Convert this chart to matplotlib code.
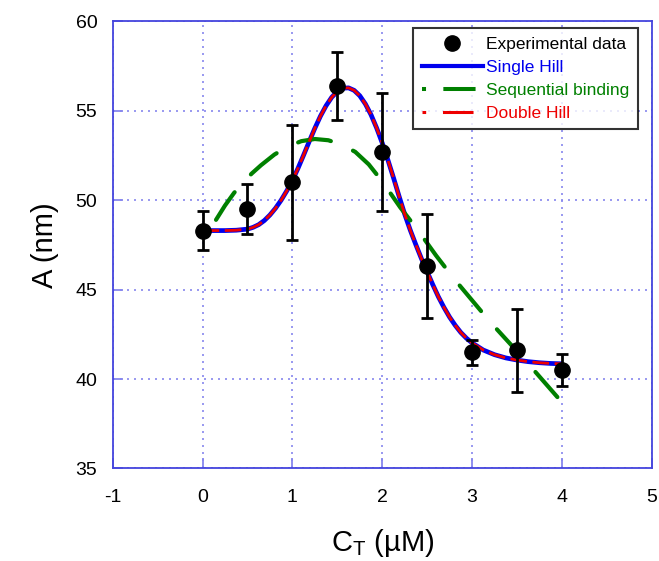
import matplotlib
matplotlib.use('Agg')
import matplotlib.pyplot as plt
from matplotlib.lines import Line2D

plt.rcParams['font.family'] = ['Liberation Sans', 'DejaVu Sans']
plt.rcParams['mathtext.fontset'] = 'custom'
plt.rcParams['mathtext.rm'] = 'Liberation Sans'
plt.rcParams['mathtext.it'] = 'Liberation Sans'
plt.rcParams['axes.unicode_minus'] = False

# measured absorbance peak position vs total concentration
conc = [0, 0.5, 1.0, 1.5, 2.0, 2.5, 3.0, 3.5, 4.0]
A_exp = [48.3, 49.5, 51.0, 56.4, 52.7, 46.3, 41.5, 41.6, 40.5]
err_lo = [47.2, 48.1, 47.8, 54.5, 49.4, 43.4, 40.8, 39.3, 39.6]
err_hi = [49.4, 50.9, 54.2, 58.3, 56.0, 49.2, 42.2, 43.9, 41.4]

# fitted curves
x_hill = [0, 0.125, 0.25, 0.375, 0.5, 0.5625, 0.625, 0.6875, 0.75, 0.8125,
          0.875, 0.9375, 1.0, 1.0625, 1.125, 1.1875, 1.25, 1.3125, 1.375,
          1.4375, 1.5, 1.5625, 1.625, 1.6875, 1.75, 1.8125, 1.875, 1.9375,
          2.0, 2.0625, 2.125, 2.1875, 2.25, 2.3125, 2.375, 2.4375, 2.5,
          2.5625, 2.625, 2.6875, 2.75, 2.8125, 2.875, 2.9375, 3.0, 3.125,
          3.25, 3.375, 3.5, 3.625, 3.75, 3.875, 4.0]
A_single = [48.3, 48.3, 48.3, 48.32, 48.38, 48.48, 48.63, 48.86, 49.17, 49.55,
            50.0, 50.52, 51.1, 51.78, 52.52, 53.28, 54.02, 54.7, 55.28,
            55.75, 56.08, 56.26, 56.28, 56.14, 55.84, 55.38, 54.78, 54.04,
            53.2, 52.26, 51.26, 50.22, 49.22, 48.32, 47.5, 46.72, 46.0,
            45.28, 44.6, 44.0, 43.46, 43.0, 42.6, 42.28, 42.02, 41.62,
            41.36, 41.18, 41.06, 40.97, 40.91, 40.87, 40.85]
A_double = A_single

x_seq = [0.15, 0.25, 0.35, 0.45, 0.55, 0.65, 0.8, 0.95, 1.1, 1.25, 1.4, 1.55,
         1.7, 1.85, 2.0, 2.2, 2.4, 2.6, 2.8, 3.0, 3.2, 3.4, 3.6, 3.8, 4.0]
A_seq = [48.9, 49.7, 50.4, 51.0, 51.5, 51.95, 52.55, 53.0, 53.3, 53.42, 53.35,
         53.1, 52.7, 52.0, 51.05, 49.6, 48.3, 46.9, 45.6, 44.4, 43.2, 42.1,
         41.0, 39.85, 38.7]

fig = plt.figure(figsize=(6.59, 5.61), dpi=100)
ax = fig.add_axes([0.171, 0.165, 0.818, 0.797])

spine_col = '#4444dd'
grid_col = '#8888ee'

ax.plot(x_hill, A_single, color='#0000ee', lw=3.4, zorder=3,
        solid_capstyle='butt', solid_joinstyle='round')
ax.plot(x_hill, A_double, color='#ee0000', lw=2.0, dashes=(6.0, 2.0),
        zorder=4, dash_capstyle='butt')
ax.plot(x_seq, A_seq, color='#008000', lw=3.0, dashes=(8.0, 5.8), zorder=3,
        dash_capstyle='round')

yerr = [[a - l for a, l in zip(A_exp, err_lo)],
        [h - a for a, h in zip(A_exp, err_hi)]]
ax.errorbar(conc, A_exp, yerr=yerr, fmt='o', color='black', ms=11,
            elinewidth=2.0, capsize=4, capthick=2.0, zorder=5)

ax.set_xlim(-1, 5)
ax.set_ylim(35, 60)
ax.set_xticks(range(-1, 6))
ax.set_yticks(range(35, 61, 5))

ax.grid(True, color=grid_col, linestyle=(0, (1.2, 3.0)), lw=1.2)
ax.set_axisbelow(True)
for s in ax.spines.values():
    s.set_color(spine_col)
    s.set_linewidth(1.3)
ax.tick_params(direction='in', length=7, width=1.3, color=grid_col,
               labelsize=14, pad=11, top=False, right=False)
ax.tick_params(axis='x', pad=15)

ax.set_xlabel(r'C$_\mathrm{T}$ (µM)', fontsize=21, labelpad=15)
ax.set_ylabel('A (nm)', fontsize=21, labelpad=12)

# legend proxies: dot followed by a dash, like the drawn line style
handles = [
    Line2D([], [], color='black', marker='o', ms=11, ls='none'),
    Line2D([], [], color='#0000ee', lw=3.0),
    Line2D([], [], color='#008000', lw=2.9, dashes=(1, 4.3, 8, 10)),
    Line2D([], [], color='#ee0000', lw=2.2, dashes=(1.2, 5.5, 10, 10)),
]
labels = ['Experimental data', 'Single Hill', 'Sequential binding',
          'Double Hill']
leg = ax.legend(handles, labels, loc='upper right', fontsize=12.5,
                handlelength=3.5, handletextpad=0.2, labelspacing=0.45,
                borderpad=0.5, frameon=True, fancybox=False,
                bbox_to_anchor=(0.975, 0.985), borderaxespad=0)
leg.get_frame().set_edgecolor('black')
leg.get_frame().set_linewidth(1.5)
for txt, c in zip(leg.get_texts(), ['black', '#0000ee', '#008000', '#ee0000']):
    txt.set_color(c)

fig.savefig('out.png', dpi=100)
